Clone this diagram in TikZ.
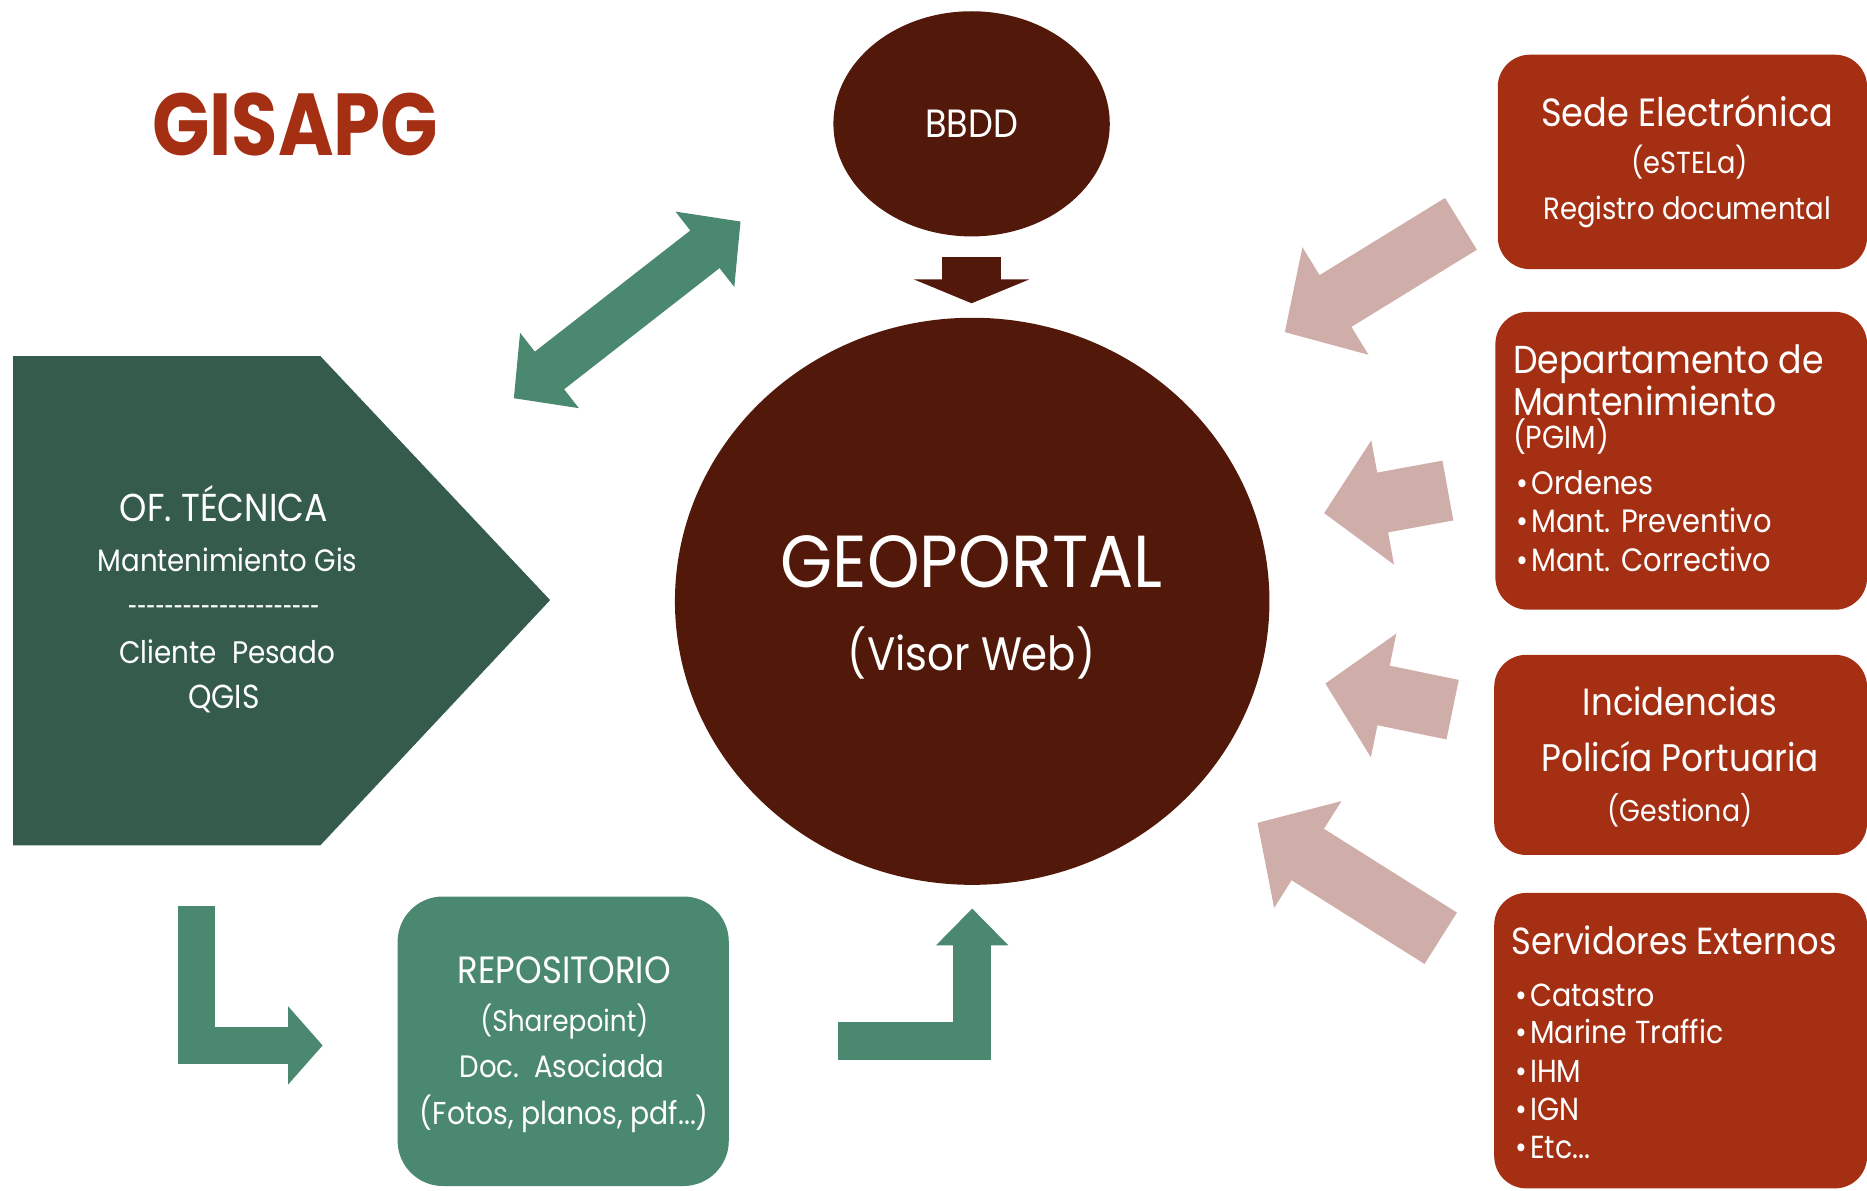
\documentclass[tikz,border=0pt]{standalone}
\usepackage{fontspec}
\setmainfont{Poppins}
\usetikzlibrary{shapes.geometric,arrows.meta}
\definecolor{dbrown}{HTML}{52190A}
\definecolor{dgreen}{HTML}{345B4B}
\definecolor{mgreen}{HTML}{4A8870}
\definecolor{rbox}{HTML}{A52F12}
\definecolor{pinkar}{HTML}{CFADA9}
\newcommand\fs[1]{\fontsize{#1}{#1}\selectfont}
\newcommand\st[1]{\scalebox{1}[1.12]{#1}}
\newcommand\hy{\mbox{-}}
\newcommand\bul[1]{\makebox[1.25mm][l]{\textbullet}#1}
\begin{document}
\begin{tikzpicture}[x=0.01cm,y=-0.01cm,
  txt/.style={text=white,inner sep=0pt,anchor=base},
  txtl/.style={text=white,inner sep=0pt,anchor=base west},
  redbox/.style={fill=rbox,rounded corners=0.27cm,inner sep=0pt},
  pinkarrow/.style={draw=pinkar,line width=0.51cm,-{Triangle[width=1.03cm,length=0.5cm]}},
  greenarrow/.style={draw=mgreen,line join=miter}
]
\fill[white] (0,0) rectangle (1568,1000);
\useasboundingbox (0,0) rectangle (1568,1000);

% title
\node[anchor=base,inner sep=0pt,text=rbox,font=\fs{20}\bfseries] (title) at (248,131) {\scalebox{0.9}[1.05]{GISAPG}};

% BBDD and GEOPORTAL
\node[ellipse,fill=dbrown,minimum width=2.32cm,minimum height=1.89cm,inner sep=0pt,text=white,font=\fs{8.4}] (bbdd) at (816,104) {\st{BBDD}};
\node[ellipse,fill=dbrown,minimum width=4.99cm,minimum height=4.76cm,inner sep=0pt] (geo) at (816.5,505) {};
\node[txt,font=\fs{16}] (geo1) at (816,493) {\scalebox{1}[1.1]{GEOPORTAL}};
\node[txt,font=\fs{10}] (geo2) at (816,563) {\st{(Visor Web)}};

% BBDD -> GEOPORTAL arrow
\coordinate (bda) at (816,215.5);
\coordinate (bdb) at (816,254.7);
\draw[draw=dbrown,line width=0.49cm,-{Triangle[width=0.96cm,length=0.2cm]}] (bda) -- (bdb);

% OF. TECNICA pentagon
\fill[dgreen] (11,299) -- (269,299) -- (462,504) -- (269,710) -- (11,710) -- cycle;
\coordinate (ofc) at (188,504);
\node[txt,font=\fs{8.3}] (of1) at (188,438) {\st{OF. TÉCNICA}};
\node[txt,font=\fs{6.6}] (of2) at (191,480) {\st{Mantenimiento Gis}};
\node[txt,font=\fs{7}] (of3) at (188,519) {\scalebox{0.564}[1]{\hy\hy\hy\hy\hy\hy\hy\hy\hy\hy\hy\hy\hy\hy\hy\hy\hy\hy\hy\hy\hy}};
\node[txt,font=\fs{6.65}] (of4) at (191,557) {\st{Cliente\ \ Pesado}};
\node[txt,font=\fs{7.1}] (of5) at (188,595) {\st{QGIS}};

% green double arrow
\coordinate (ga) at (431.5,334.5);
\coordinate (gb) at (622,186);
\draw[greenarrow,line width=0.40cm,{Triangle[width=0.78cm,length=0.38cm]}-{Triangle[width=0.78cm,length=0.38cm]}] (ga) -- (gb);

% repositorio
\node[fill=mgreen,rounded corners=0.38cm,minimum width=2.78cm,minimum height=2.43cm,inner sep=0pt] (repo) at (473,874.5) {};
\node[txt,font=\fs{8.1}] (r1) at (474,826) {\st{REPOSITORIO}};
\node[txt,font=\fs{6.3}] (r2) at (474,866) {\st{(Sharepoint)}};
\node[txt,font=\fs{6.6}] (r3) at (472,905) {\st{Doc.\ \ Asociada}};
\node[txt,font=\fs{6.75}] (r4) at (474,944) {\st{(Fotos, planos, pdf...)}};

% bent arrows
\coordinate (la) at (165,761);
\coordinate (lb) at (271,878);
\draw[greenarrow,line width=0.31cm,-{Triangle[width=0.64cm,length=0.29cm]}] (la) |- (lb);
\coordinate (ra) at (704,874.5);
\coordinate (rb) at (816.5,763);
\draw[greenarrow,line width=0.32cm,-{Triangle[width=0.59cm,length=0.31cm]}] (ra) -| (rb);

% red boxes
\node[redbox,minimum width=3.10cm,minimum height=1.80cm] (sede) at (1413,136) {};
\node[txt,font=\fs{8.4}] (s1) at (1417,106) {\st{Sede Electrónica}};
\node[txt,font=\fs{6.5}] (s2) at (1419,146) {\st{(eSTELa)}};
\node[txt,font=\fs{6.57}] (s3) at (1417,184) {\st{Registro documental}};

\node[redbox,minimum width=3.12cm,minimum height=2.50cm] (dept) at (1412,387) {};
\node[txtl,font=\fs{8.3}] (d1) at (1270,314) {\st{Departamento de}};
\node[txtl,font=\fs{8.3}] (d2) at (1270,349) {\st{Mantenimiento}};
\node[txtl,font=\fs{6.8}] (d3) at (1270,377) {\st{(PGIM)}};
\node[txtl,font=\fs{6.9}] (d4) at (1273,415) {\st{\bul{Ordenes}}};
\node[txtl,font=\fs{6.9}] (d5) at (1273,447) {\st{\bul{Mant. Preventivo}}};
\node[txtl,font=\fs{6.9}] (d6) at (1273,480) {\st{\bul{Mant. Correctivo}}};

\node[redbox,minimum width=3.13cm,minimum height=1.68cm] (inc) at (1411.5,634) {};
\node[txt,font=\fs{8.1}] (i1) at (1411,601) {\st{Incidencias}};
\node[txt,font=\fs{8.2}] (i2) at (1411,648) {\st{Policía Portuaria}};
\node[txt,font=\fs{6.4}] (i3) at (1411,690) {\st{(Gestiona)}};

\node[redbox,minimum width=3.13cm,minimum height=2.48cm] (serv) at (1411.5,874) {};
\node[txtl,font=\fs{8.05}] (v1) at (1269,802) {\st{Servidores Externos}};
\node[txtl,font=\fs{6.8}] (v2) at (1272,845) {\st{\bul{Catastro}}};
\node[txtl,font=\fs{6.8}] (v3) at (1272,876) {\st{\bul{Marine Traffic}}};
\node[txtl,font=\fs{6.8}] (v4) at (1272,909) {\st{\bul{IHM}}};
\node[txtl,font=\fs{6.8}] (v5) at (1272,941) {\st{\bul{IGN}}};
\node[txtl,font=\fs{6.8}] (v6) at (1272,973) {\st{\bul{Etc...}}};

% pink arrows
\coordinate (p1a) at (1227,188);
\coordinate (p1b) at (1079,279);
\draw[pinkarrow] (p1a) -- (p1b);
\coordinate (p2a) at (1216,412);
\coordinate (p2b) at (1112,431);
\draw[pinkarrow] (p2a) -- (p2b);
\coordinate (p3a) at (1220,596);
\coordinate (p3b) at (1113,574);
\draw[pinkarrow] (p3a) -- (p3b);
\coordinate (p4a) at (1210,788);
\coordinate (p4b) at (1056,691);
\draw[pinkarrow] (p4a) -- (p4b);
\end{tikzpicture}
\end{document}
